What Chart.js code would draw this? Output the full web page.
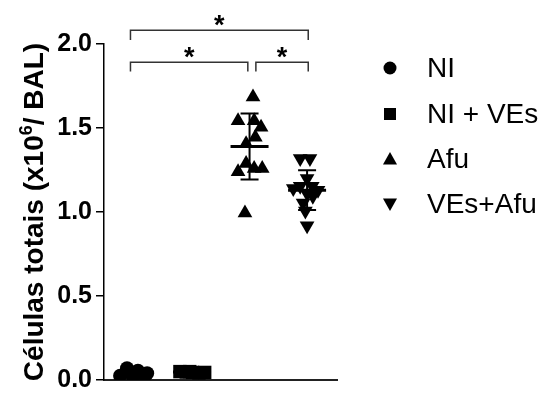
<!DOCTYPE html>
<html>
<head>
<meta charset="utf-8">
<script src="https://cdn.jsdelivr.net/npm/chart.js@4/dist/chart.umd.min.js"></script>
<style>
html,body{margin:0;padding:0;background:#fff;}
#wrap{width:541px;height:399px;}
</style>
</head>
<body>
<div id="wrap"><canvas id="c" width="541" height="399"></canvas></div>
<script>
// ---- data ----
const groups = ["NI", "NI + VEs", "Afu", "VEs+Afu"];
const yTicks = [0, 0.5, 1.0, 1.5, 2.0];
// x = jittered group position (group k sits at x = k+1)
const niX   = [0.87, 1.06, 1.22, 0.75, 0.97, 1.18];
const niY   = [0.070, 0.055, 0.040, 0.025, 0.020, 0.025];
const nivX  = [1.79, 1.90, 2.01, 2.12, 2.22, 1.96];
const nivY  = [0.050, 0.048, 0.045, 0.042, 0.045, 0.050];
const afuX  = [3.06, 2.80, 3.08, 3.20, 3.10, 2.94, 2.94, 2.80, 3.08, 3.22, 2.92];
const afuY  = [1.684, 1.543, 1.543, 1.504, 1.445, 1.406, 1.288, 1.239, 1.259, 1.259, 0.994];
const veaX  = [3.88, 4.05, 4.00, 3.76, 3.88, 4.09, 4.19, 4.00, 4.10, 3.93, 3.97, 4.00];
const veaY  = [1.318, 1.318, 1.200, 1.140, 1.153, 1.153, 1.130, 1.110, 1.094, 1.053, 1.006, 0.918];
const meanVals = [0.040, 0.048, 1.390, 1.130];
const sdVals   = [0.015, 0.004, 0.196, 0.118];
const groupPos = [1, 2, 3, 4];
// significance brackets: [x1, x2, label]
const brackets = [
  {x1: 0.93, x2: 4.02, label: "*", level: 0},
  {x1: 0.93, x2: 2.97, label: "*", level: 1},
  {x1: 3.11, x2: 4.02, label: "*", level: 1}
];

const pts = (xs, ys) => xs.map((x, i) => ({x: x, y: ys[i]}));

const styles = [
  {pointStyle: 'circle', radius: 7, rotation: 0},
  {pointStyle: 'rect', radius: 9.5, rotation: 0},
  {pointStyle: 'triangle', radius: 8.5, rotation: 0},
  {pointStyle: 'triangle', radius: 8.5, rotation: 180}
];
const seriesData = [pts(niX, niY), pts(nivX, nivY), pts(afuX, afuY), pts(veaX, veaY)];

const datasets = groups.map((g, i) => ({
  label: g,
  data: seriesData[i],
  pointStyle: styles[i].pointStyle,
  pointRadius: styles[i].radius,
  pointHoverRadius: styles[i].radius,
  rotation: styles[i].rotation,
  backgroundColor: '#000',
  borderColor: '#000',
  borderWidth: 0,
  showLine: false
}));

const FONT = "'Liberation Sans', Arial, sans-serif";

const overlay = {
  id: 'overlay',
  afterDatasetsDraw(chart) {
    const ctx = chart.ctx;
    const xs = chart.scales.x, ys = chart.scales.y;
    ctx.save();
    // error bars: mean line + SD whiskers
    ctx.strokeStyle = '#000';
    groupPos.forEach((gx, i) => {
      const cx = xs.getPixelForValue(gx);
      const my = ys.getPixelForValue(meanVals[i]);
      const ty = ys.getPixelForValue(meanVals[i] + sdVals[i]);
      const by = ys.getPixelForValue(meanVals[i] - sdVals[i]);
      ctx.lineWidth = 2;
      ctx.beginPath();
      ctx.moveTo(cx, ty); ctx.lineTo(cx, by);
      ctx.moveTo(cx - 9, ty); ctx.lineTo(cx + 9, ty);
      ctx.moveTo(cx - 9, by); ctx.lineTo(cx + 9, by);
      ctx.stroke();
      ctx.lineWidth = 3;
      ctx.beginPath();
      ctx.moveTo(cx - 19, my); ctx.lineTo(cx + 19, my);
      ctx.stroke();
    });
    // brackets
    ctx.strokeStyle = '#333';
    ctx.fillStyle = '#000';
    ctx.lineWidth = 1.5;
    ctx.font = "bold 27px " + FONT;
    ctx.textAlign = 'center';
    ctx.textBaseline = 'alphabetic';
    brackets.forEach(b => {
      const top = ys.getPixelForValue(b.level === 0 ? 2.082 : 1.892);
      const bot = ys.getPixelForValue(b.level === 0 ? 2.024 : 1.837);
      const x1 = xs.getPixelForValue(b.x1), x2 = xs.getPixelForValue(b.x2);
      ctx.beginPath();
      ctx.moveTo(x1, bot); ctx.lineTo(x1, top); ctx.lineTo(x2, top); ctx.lineTo(x2, bot);
      ctx.stroke();
      ctx.fillText(b.label, (x1 + x2) / 2, top + 4);
    });
    ctx.restore();
  },
  afterDraw(chart) {
    const ctx = chart.ctx;
    ctx.save();
    // y-axis title with superscript
    const p1 = "Células totais (x10", p2 = "6", p3 = "/ BAL)";
    const big = "bold 28px " + FONT, small = "bold 18px " + FONT;
    ctx.font = big; const w1 = ctx.measureText(p1).width, w3 = ctx.measureText(p3).width;
    ctx.font = small; const w2 = ctx.measureText(p2).width;
    const W = w1 + w2 + w3;
    ctx.translate(43, 212);
    ctx.rotate(-Math.PI / 2);
    ctx.fillStyle = '#000';
    ctx.textAlign = 'left';
    ctx.textBaseline = 'alphabetic';
    let x = -W / 2;
    ctx.font = big; ctx.fillText(p1, x, 0); x += w1;
    ctx.font = small; ctx.fillText(p2, x, -11); x += w2;
    ctx.font = big; ctx.fillText(p3, x, 0);
    ctx.restore();

    // legend
    ctx.save();
    const rowsY = [68, 114, 159, 204];
    ctx.fillStyle = '#000';
    groups.forEach((g, i) => {
      const mx = 390, my = rowsY[i];
      ctx.beginPath();
      if (i === 0) { ctx.arc(mx, my, 6.5, 0, Math.PI * 2); }
      else if (i === 1) { ctx.rect(mx - 6, my - 6, 12, 12); }
      else if (i === 2) { ctx.moveTo(mx, my - 7); ctx.lineTo(mx + 7, my + 5.5); ctx.lineTo(mx - 7, my + 5.5); ctx.closePath(); }
      else { ctx.moveTo(mx, my + 7); ctx.lineTo(mx + 7, my - 5.5); ctx.lineTo(mx - 7, my - 5.5); ctx.closePath(); }
      ctx.fill();
      ctx.font = "28px " + FONT;
      ctx.textAlign = 'left';
      ctx.textBaseline = 'middle';
      ctx.fillText(g, 427, my + 1);
    });
    ctx.restore();
  }
};

new Chart(document.getElementById('c'), {
  type: 'scatter',
  data: {datasets: datasets},
  options: {
    responsive: false,
    animation: false,
    devicePixelRatio: 1,
    layout: {padding: {left: 0, right: 204, top: 44, bottom: 15}},
    plugins: {legend: {display: false}, tooltip: {enabled: false}},
    scales: {
      x: {
        type: 'linear', min: 0.47, max: 4.52,
        ticks: {display: false},
        grid: {display: false, drawTicks: false},
        border: {display: true, color: '#222', width: 2},
        afterFit(s) { s.height = 0; }
      },
      y: {
        type: 'linear', min: 0, max: 2,
        afterBuildTicks(s) { s.ticks = yTicks.map(v => ({value: v})); },
        ticks: {
          color: '#000', padding: 4,
          font: {family: FONT, size: 25, weight: 'bold'},
          callback: v => Number(v).toFixed(1)
        },
        grid: {drawOnChartArea: false, drawTicks: true, tickLength: 8, color: '#000', lineWidth: 1.5},
        border: {display: true, color: '#000', width: 1.5},
        afterFit(s) { s.width = 104; }
      }
    }
  },
  plugins: [overlay]
});
</script>
</body>
</html>
